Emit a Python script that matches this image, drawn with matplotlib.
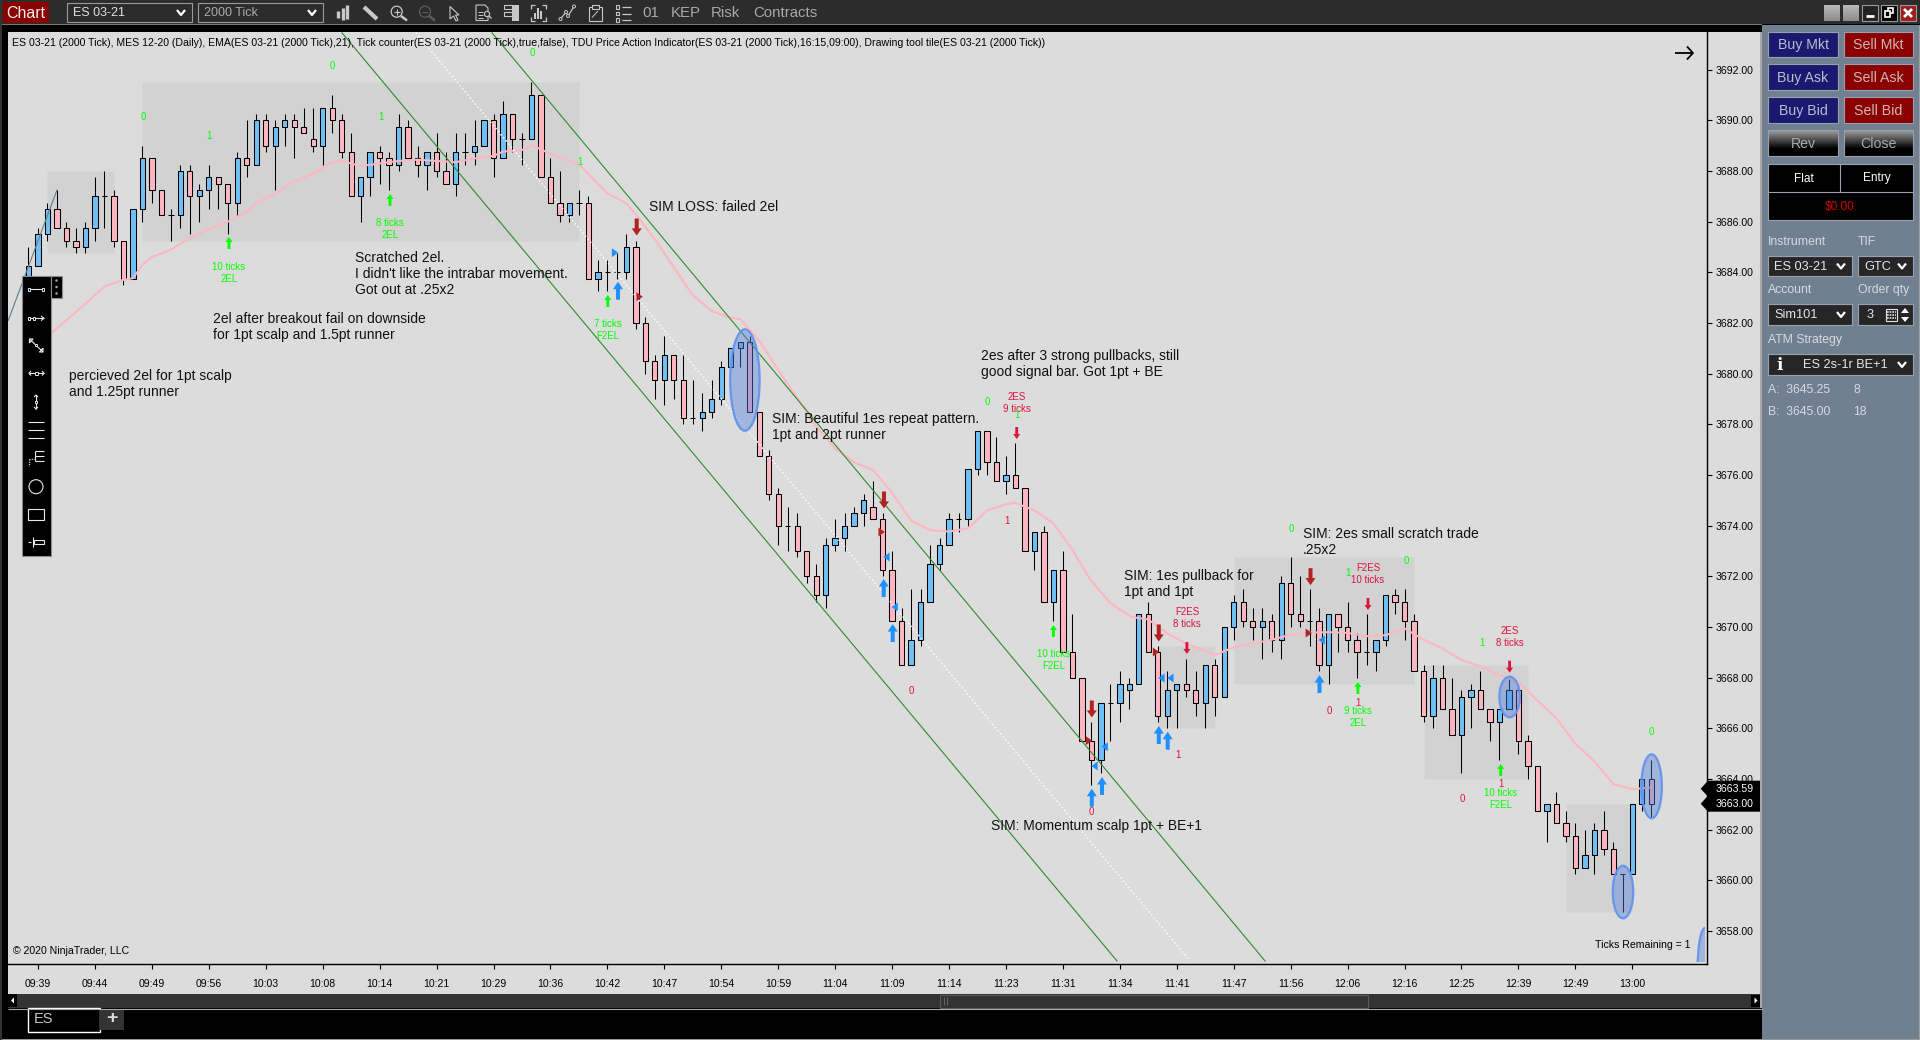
import numpy as np
import matplotlib
matplotlib.use("Agg")
import matplotlib.pyplot as plt
from matplotlib.patches import Rectangle, Ellipse, Polygon, Circle

plt.rcParams['font.family'] = ['Liberation Sans', 'DejaVu Sans']

opens = [3683.5,3684.25,3685.5,3686.5,3685.75,3685.25,3685.0,3685.75,3687.0,3687.0,
3685.25,3683.75,3686.5,3688.5,3687.25,3686.25,3686.25,3688.0,3687.0,3687.25,
3687.75,3687.5,3686.75,3688.5,3688.25,3690.0,3689.0,3689.75,3690.0,3689.75,
3689.25,3689.0,3690.5,3690.0,3688.75,3687.0,3687.75,3688.75,3688.5,3688.25,
3689.75,3688.5,3688.25,3688.75,3688.0,3687.5,3688.75,3688.75,3689.0,3690.0,
3688.5,3690.25,3689.25,3689.25,3691.0,3687.75,3686.75,3686.25,3686.75,3686.75,
3683.75,3684.0,3684.0,3684.0,3685.0,3682.0,3680.5,3679.75,3680.75,3679.75,
3678.25,3678.25,3678.5,3679.0,3680.25,3681.0,3681.25,3678.5,3676.75,3675.25,
3674.0,3674.0,3673.0,3672.0,3671.25,3673.25,3673.5,3674.0,3674.5,3674.75,
3674.25,3672.25,3670.25,3668.5,3669.5,3671.0,3672.5,3673.25,3674.25,3674.25,
3676.25,3677.75,3676.5,3675.75,3676.0,3675.5,3673.0,3673.75,3671.0,3672.25,
3669.0,3668.0,3665.5,3664.75,3667.0,3667.0,3667.5,3667.75,3670.5,3669.0,
3666.5,3667.5,3667.75,3667.5,3667.0,3668.5,3667.25,3670.0,3671.0,3670.25,
3670.0,3670.25,3669.5,3671.75,3670.5,3670.25,3670.25,3668.5,3670.5,3670.0,
3669.5,3669.0,3669.0,3669.5,3671.25,3671.0,3670.25,3668.25,3666.5,3668.0,
3666.75,3665.75,3667.25,3667.5,3666.75,3666.25,3666.75,3667.5,3665.5,3664.5,
3662.75,3663.0,3662.25,3661.75,3660.5,3661.0,3662.0,3661.25,3660.25,3660.25,
3663.0,3664.0]
closes = [3684.25,3685.5,3686.5,3685.75,3685.25,3685.0,3685.75,3687.0,3687.0,3685.25,
3683.75,3686.5,3688.5,3687.25,3686.25,3686.25,3688.0,3687.0,3687.25,3687.75,
3687.5,3686.75,3688.5,3688.25,3690.0,3689.0,3689.75,3690.0,3689.75,3689.5,
3689.0,3690.5,3690.0,3688.75,3687.0,3687.75,3688.75,3688.5,3688.25,3689.75,
3688.5,3688.25,3688.75,3688.0,3687.5,3688.75,3688.75,3689.0,3690.0,3688.5,
3690.25,3689.25,3689.25,3691.0,3687.75,3686.75,3686.25,3686.75,3686.75,3683.75,
3684.0,3684.0,3684.0,3685.0,3682.0,3680.5,3679.75,3680.75,3679.75,3678.25,
3678.25,3678.5,3679.0,3680.25,3681.0,3681.25,3678.5,3676.75,3675.25,3674.0,
3674.0,3673.0,3672.0,3671.25,3673.25,3673.5,3674.0,3674.5,3675.0,3674.25,
3672.25,3670.25,3668.5,3669.5,3671.0,3672.5,3673.25,3674.25,3674.25,3676.25,
3677.75,3676.5,3675.75,3676.0,3675.5,3673.0,3673.75,3671.0,3672.25,3669.0,
3668.0,3665.5,3664.75,3667.0,3667.0,3667.75,3667.75,3670.5,3669.0,3666.5,
3667.5,3667.75,3667.5,3667.0,3668.5,3667.25,3670.0,3671.0,3670.25,3670.0,
3670.25,3669.5,3671.75,3670.5,3670.25,3670.25,3668.5,3670.5,3670.0,3669.5,
3669.0,3669.0,3669.5,3671.25,3671.0,3670.25,3668.25,3666.5,3668.0,3666.75,
3665.75,3667.25,3667.5,3666.75,3666.25,3666.75,3667.5,3665.5,3664.5,3662.75,
3663.0,3662.25,3661.75,3660.5,3661.0,3662.0,3661.25,3660.25,3660.25,3663.0,
3664.0,3663.0]
highs = [3685.0,3685.75,3686.75,3687.25,3686.0,3685.75,3686.0,3687.75,3688.0,3687.25,
3685.25,3686.5,3689.0,3688.5,3687.25,3686.5,3688.25,3688.25,3687.5,3688.25,
3687.75,3687.5,3688.75,3690.0,3690.25,3690.25,3690.0,3690.25,3690.25,3690.5,
3690.5,3690.5,3691.0,3690.25,3689.5,3687.75,3688.75,3689.0,3688.75,3690.25,
3690.0,3689.0,3688.75,3689.5,3688.75,3689.5,3689.5,3690.0,3690.0,3690.25,
3690.75,3690.25,3689.5,3691.5,3691.0,3688.5,3688.0,3686.75,3687.25,3687.0,
3684.5,3684.5,3684.75,3685.5,3685.25,3682.25,3680.75,3681.5,3680.75,3680.75,
3679.75,3679.25,3679.75,3680.5,3681.0,3681.25,3681.5,3678.5,3677.0,3675.5,
3674.75,3674.5,3673.0,3672.5,3673.5,3674.25,3674.5,3674.75,3675.25,3675.75,
3674.5,3673.0,3670.75,3671.5,3671.5,3673.25,3673.5,3674.5,3674.5,3676.25,
3677.75,3677.75,3677.5,3676.75,3677.25,3675.5,3673.75,3674.0,3672.25,3673.0,
3670.5,3668.0,3666.25,3667.0,3667.75,3668.25,3668.0,3670.5,3671.0,3669.25,
3668.25,3667.75,3668.75,3668.25,3668.5,3668.75,3670.0,3671.25,3671.5,3670.75,
3670.75,3670.5,3672.0,3672.75,3672.0,3671.5,3670.75,3670.5,3670.5,3671.0,
3669.75,3670.5,3669.5,3671.25,3671.5,3671.5,3670.5,3668.5,3668.5,3668.5,
3668.0,3667.5,3667.75,3668.25,3666.75,3666.75,3668.0,3667.75,3665.75,3664.5,
3663.0,3663.5,3662.75,3662.25,3662.0,3662.25,3662.75,3661.5,3660.25,3663.0,
3664.0,3664.75]
lows = [3683.0,3684.25,3685.25,3685.75,3685.0,3684.75,3684.75,3685.25,3685.75,3685.0,
3683.5,3683.75,3686.0,3686.75,3686.25,3685.25,3685.75,3685.5,3686.0,3686.5,
3686.5,3685.5,3686.25,3687.75,3688.25,3688.75,3687.25,3689.0,3688.5,3689.5,
3688.75,3688.25,3689.5,3688.5,3687.0,3686.0,3687.0,3687.5,3687.25,3688.0,
3688.5,3687.75,3687.25,3687.75,3687.5,3687.0,3688.25,3688.25,3689.0,3687.75,
3688.5,3688.75,3688.25,3689.25,3687.75,3686.75,3686.0,3686.0,3686.25,3683.75,
3683.25,3683.25,3683.75,3683.75,3681.75,3680.0,3679.0,3678.75,3679.0,3678.0,
3678.0,3677.75,3678.25,3678.75,3680.25,3680.25,3678.5,3676.75,3675.0,3673.25,
3673.0,3672.75,3671.75,3671.0,3670.75,3673.0,3673.0,3674.0,3674.0,3674.25,
3672.0,3670.25,3668.5,3668.5,3669.25,3671.0,3672.25,3673.25,3673.75,3674.0,
3676.0,3676.0,3675.75,3675.25,3675.5,3673.0,3672.25,3671.0,3670.25,3669.0,
3668.0,3665.5,3663.75,3664.25,3665.5,3666.25,3666.75,3667.75,3669.0,3666.25,
3666.0,3666.0,3667.25,3666.5,3666.0,3666.5,3667.25,3669.5,3670.0,3669.5,
3668.75,3669.0,3668.75,3670.0,3670.0,3669.25,3668.25,3667.75,3669.0,3669.0,
3668.0,3668.5,3668.25,3669.25,3670.5,3669.5,3668.25,3666.25,3666.0,3666.75,
3665.75,3664.25,3666.0,3666.75,3665.5,3664.75,3666.75,3665.0,3664.0,3662.75,
3661.5,3662.25,3661.5,3660.25,3660.5,3660.25,3661.0,3660.25,3658.75,3660.25,
3662.75,3662.5]

ema_bars = [0,2.4,5.2,8,9.9,11,12,13,15,17,19,21,23,24,26,27.5,30,32,33,35,37,39,41,43,45,47,49,50,52,53,55,58,61,63,64.2,
66.3,68,70,71.9,73.6,75,77,79,80.9,83,85,87,89,91,93,95,97,99,101,103,104,106,108,110,111.9,114,116.2,118,120,122,125,
127,129,131,133,135,137,139,141,143,145,147,149,151,153,155,157,159,161,163,165,167,169,171]
ema_vals = [3681.0,3681.6,3682.5,3683.44,3683.7,3683.77,3684.3,3684.6,3684.9,3685.35,3685.7,3686.0,3686.4,3686.75,3687.1,3687.5,3687.9,3688.35,3688.4,3688.2,3688.3,3688.4,3688.45,3688.4,3688.35,3688.5,3688.6,3688.77,3688.83,3689.03,3688.68,3688.27,3687.12,3686.73,3686.2,
3685.15,3684.2,3683.1,3682.5,3682.25,3682.15,3681.3,3680.15,3679.1,3677.9,3677.05,3676.5,3676.2,3675.3,3674.2,3673.83,3673.77,3673.9,3674.6,3674.85,3674.9,3674.6,3674.1,3673.05,3671.86,3670.94,3670.4,3670.3,3669.75,3669.35,3668.9,
3669.2,3669.35,3669.5,3669.7,3669.78,3669.8,3669.77,3669.64,3669.68,3669.95,3669.5,3669.15,3668.7,3668.45,3668.1,3667.84,3667.1,3666.4,3665.4,3664.7,3663.8,3663.6,3663.67]

time_labels = ["09:39","09:44","09:49","09:56","10:03","10:08","10:14","10:21","10:29","10:36","10:42","10:47","10:54","10:59",
"11:04","11:09","11:14","11:23","11:31","11:34","11:41","11:47","11:56","12:06","12:16","12:25","12:39","12:49","13:00"]
price_ticks = list(range(3658, 3694, 2))

# (first bar, last bar, low price, high price)
zone_first = [2, 12, 119, 127, 147, 162]
zone_last = [9, 58, 125, 146, 158, 169]
zone_low = [3684.75, 3685.25, 3666.0, 3667.75, 3664.0, 3658.75]
zone_high = [3688.0, 3691.5, 3669.25, 3672.75, 3668.5, 3663.0]

channel_x0 = [33.03, 48.84]
channel_x1 = [114.7, 130.3]
mid_x0, mid_x1 = 40.83, 122.4
line_y0, line_y1 = 3693.46, 3656.82

W, H = 1920, 1040
BG = '#DCDCDC'
fig = plt.figure(figsize=(W/100, H/100), dpi=100, facecolor='black')

# ---------- window chrome (pixel axes underneath) ----------
ui = fig.add_axes([0, 0, 1, 1], zorder=0)
ui.set_xlim(0, W); ui.set_ylim(H, 0); ui.axis('off')

def rect(a, x0, y0, x1, y1, fc, ec='none', lw=0.8, z=1):
    a.add_patch(Rectangle((x0, y0), x1-x0, y1-y0, fc=fc, ec=ec, lw=lw, zorder=z))

def px_line(a, xs, ys, c='white', lw=0.8, z=5, **kw):
    a.plot(xs, ys, color=c, lw=lw, zorder=z, solid_capstyle='butt', **kw)

rect(ui, 0, 0, W, H, 'black')
rect(ui, 0, 0, W, 24, '#2c2c2c')
rect(ui, 0, 24, 1762, 25, '#777777', z=2)
rect(ui, 0, 1039, W, H, '#9a9a9a', z=2)
rect(ui, 0, 0, 1.5, H, '#333333', z=2)
rect(ui, 8, 32, 1760, 994, BG)
rect(ui, 1762, 25, W, H, '#708090')
rect(ui, 1760, 32, 1762, 1008, '#a8a8a8', z=2)
rect(ui, 1919, 25, W, H, '#a0a0a0', z=2)
rect(ui, 3, 2, 49, 23, '#8b0000')
ui.text(26, 13, 'Chart', color='#f0f0f0', fontsize=11.5, ha='center', va='center')

def combo(x0, y0, x1, y1, txt, tc='#d8d8d8', fs=9, tx=None, ec='#9a9a9a', fc='#262626'):
    rect(ui, x0, y0, x1, y1, fc, ec=ec, lw=0.8, z=3)
    ui.text((x0+6) if tx is None else tx, (y0+y1)/2+0.5, txt, color=tc, fontsize=fs, ha='left', va='center', zorder=4)
    cx, cy = x1-11, (y0+y1)/2
    px_line(ui, [cx-4, cx, cx+4], [cy-2.5, cy+2.5, cy-2.5], c='white', lw=1.6)

combo(67, 3, 192, 22, 'ES 03-21', fs=9, tc='#e0e0e0', fc='#2c2c2c')
combo(198, 3, 323, 22, '2000 Tick', fs=9, tc='#aaaaaa', fc='#2c2c2c')

# title-bar icons
ic = '#c8c8c8'
for dx, y0, y1 in [(338, 11, 18), (342.5, 8, 20), (347, 5, 19)]:
    px_line(ui, [dx, dx], [y0, y1], c=ic, lw=2.4)
px_line(ui, [364, 377], [7, 19], c=ic, lw=3)
ui.add_patch(Circle((396.7, 11.7), 5.5, fc='none', ec=ic, lw=0.9, zorder=5))
px_line(ui, [393.5, 400], [11.7, 11.7], c=ic, lw=0.8); px_line(ui, [396.7, 396.7], [8.5, 15], c=ic, lw=0.8)
px_line(ui, [401, 407], [16, 20.5], c=ic, lw=1.8)
ui.add_patch(Circle((425, 11.7), 5.5, fc='none', ec='#5c5c5c', lw=0.9, zorder=5))
px_line(ui, [422, 428], [11.7, 11.7], c='#5c5c5c', lw=0.8)
px_line(ui, [429, 435], [16, 20.5], c='#5c5c5c', lw=1.8)
ui.add_patch(Polygon([(450, 6.5), (450, 19), (453.5, 16), (456, 21), (458, 20), (455.5, 15), (459, 15)], fc='none', ec=ic, lw=0.8, zorder=5))
ui.add_patch(Polygon([(476, 5), (485, 5), (488, 8), (488, 20.5), (476, 20.5)], fc='none', ec=ic, lw=0.8, zorder=5))
for y in [12, 15, 18]:
    px_line(ui, [478, 483], [y, y], c=ic, lw=0.7)
ui.add_patch(Circle((487, 14), 2.6, fc='#2c2c2c', ec=ic, lw=0.8, zorder=6))
px_line(ui, [489, 491.5], [16, 18.5], c=ic, lw=1, z=6)
for y0 in [5, 12]:
    rect(ui, 503.5, y0, 512, y0+4, 'none', ec=ic, z=5)
rect(ui, 512, 5, 519, 21, ic, z=5)
for xs, ys in [([531, 531, 535], [9, 5, 5]), ([541.5, 545.5, 545.5], [5, 5, 9]), ([531, 531, 535], [16.5, 20.5, 20.5]), ([541.5, 545.5, 545.5], [20.5, 20.5, 16.5])]:
    px_line(ui, xs, ys, c=ic, lw=0.9)
for dx, y0 in [(535, 13), (538, 8), (541, 11)]:
    px_line(ui, [dx, dx], [y0, 19], c=ic, lw=1.5)
px_line(ui, [560.5, 566, 568, 574], [19, 12, 16, 6.5], c=ic, lw=0.9)
for x, y in [(560.5, 19), (566, 12), (568, 16), (574, 6.5)]:
    ui.add_patch(Circle((x, y), 1.5, fc='#2c2c2c', ec=ic, lw=0.7, zorder=6))
rect(ui, 588.5, 7, 602, 20.5, 'none', ec=ic, z=5); rect(ui, 592, 5, 598.5, 8.5, '#2c2c2c', ec=ic, z=6)
px_line(ui, [592, 598], [17.5, 11], c=ic, lw=0.7)
for y in [7, 13.5, 20]:
    rect(ui, 615.5, y-1.6, 618.5, y+1.6, 'none', ec=ic, z=5)
    px_line(ui, [622, 631], [y, y], c=ic, lw=0.9)
for txt, x in zip(['01', 'KEP', 'Risk', 'Contracts'], [651, 686, 725, 785]):
    ui.text(x, 13, txt, color='#a8a8a8', fontsize=10.8, ha='center', va='center')

# window buttons
for x0, x1 in [(1824, 1840), (1843, 1859)]:
    ui.imshow(np.linspace(0.72, 0.55, 16)[:, None], cmap='gray', vmin=0, vmax=1, extent=(x0, x1, 21, 5), aspect='auto', zorder=3)
rect(ui, 1862, 5, 1878, 21, '#222222', ec='#999999', z=3)
px_line(ui, [1866, 1874], [16, 16], lw=2)
rect(ui, 1881, 5, 1897, 21, 'black', ec='#999999', z=3)
rect(ui, 1888, 8, 1893, 13, 'none', ec='white', lw=1.2, z=5); rect(ui, 1885, 11, 1890, 17, 'black', ec='white', lw=1.2, z=6)
rect(ui, 1900, 5, 1916, 21, '#a01c1c', ec='#999999', z=3)
px_line(ui, [1904, 1912], [9, 17], lw=2); px_line(ui, [1904, 1912], [17, 9], lw=2)

# order panel
btn_rows = [(32, 57), (64, 90), (97, 123)]
for (y0, y1), a, b in zip(btn_rows, ['Buy Mkt', 'Buy Ask', 'Buy Bid'], ['Sell Mkt', 'Sell Ask', 'Sell Bid']):
    rect(ui, 1768, y0, 1838, y1, '#191970', ec='#9aa0ac', z=3)
    rect(ui, 1844, y0, 1913, y1, '#8b0000', ec='#9aa0ac', z=3)
    ui.text(1803, (y0+y1)/2+0.8, a, color='#b9bdd0', fontsize=10.2, ha='center', va='center', zorder=4)
    ui.text(1878.5, (y0+y1)/2+0.8, b, color='#d2b4b4', fontsize=10.2, ha='center', va='center', zorder=4)
for x0, x1, t in [(1768, 1838, 'Rev'), (1844, 1913, 'Close')]:
    ui.imshow(np.clip(np.linspace(0.62, -0.25, 26), 0, 1)[:, None], cmap='gray', vmin=0, vmax=1, extent=(x0, x1, 156, 130), aspect='auto', zorder=3)
    rect(ui, x0, 130, x1, 156, 'none', ec='#9aa0ac', z=4)
    ui.text((x0+x1)/2, 144, t, color='#a9a9a9', fontsize=10.2, ha='center', va='center', zorder=5)
rect(ui, 1768, 164, 1913, 220, 'black', ec='#9aa0ac', z=3)
px_line(ui, [1768, 1913], [192, 192], c='#9aa0ac')
px_line(ui, [1840, 1840], [164, 192], c='#9aa0ac')
ui.text(1804, 178.5, 'Flat', color='white', fontsize=8.6, ha='center', va='center', zorder=5)
ui.text(1877, 178.5, 'Entry', color='white', fontsize=8.6, ha='center', va='center', zorder=5)
ui.text(1840, 207, '$0.00', color='#d00000', fontsize=8.6, ha='center', va='center', zorder=5)
lab = '#d5dae2'
for x, y, t in [(1768, 242, 'Instrument'), (1858, 242, 'TIF'), (1768, 290, 'Account'), (1858, 290, 'Order qty'), (1768, 340, 'ATM Strategy'),
                (1768, 390, 'A:  3645.25'), (1853, 390, '8'), (1768, 412, 'B:  3645.00'), (1853, 412, '18')]:
    ui.text(x, y, t, color=lab, fontsize=8.8, ha='left', va='center', zorder=5)
combo(1768, 256, 1852, 276, 'ES 03-21', tc='#e6e6e6', fs=9.2, ec='#9aa0ac')
combo(1858, 256, 1913, 276, 'GTC', tc='#e6e6e6', fs=9.2, ec='#9aa0ac')
combo(1768, 304, 1852, 325, 'Sim101', tc='#e6e6e6', fs=9.2, ec='#9aa0ac')
rect(ui, 1858, 304, 1913, 325, '#262626', ec='#9aa0ac', z=3)
ui.text(1870, 315, '3', color='#e6e6e6', fontsize=9.2, ha='center', va='center', zorder=5)
rect(ui, 1886, 309, 1897, 321, 'none', ec='#e0e0e0', z=5)
for y in [312, 315, 318]:
    px_line(ui, [1887, 1896], [y, y], c='#e0e0e0', lw=1.2, ls=(0, (1, 0.6)))
ui.add_patch(Polygon([(1901, 313), (1905, 308), (1909, 313)], fc='white', zorder=5))
ui.add_patch(Polygon([(1901, 317), (1905, 322), (1909, 317)], fc='white', zorder=5))
combo(1768, 354, 1913, 375, 'ES 2s-1r BE+1', tc='#e6e6e6', fs=9.2, tx=1803, ec='#9aa0ac')
ui.text(1780, 365, 'i', color='white', fontsize=12, fontweight='bold', ha='center', va='center', zorder=5, family='DejaVu Serif')

# bottom strip: scrollbar and tabs
rect(ui, 8, 994, 1760, 1008, '#333333')
rect(ui, 940, 994.5, 1367.5, 1007.5, '#333333', ec='#5a5a5a', lw=0.8, z=2)
for x in [944, 946.5]:
    px_line(ui, [x, x], [997, 1005], c='#666666', lw=0.7)
rect(ui, 8, 994, 17, 1007, 'black', z=3)
ui.add_patch(Polygon([(11, 1000.5), (14, 997.5), (14, 1003.5)], fc='white', zorder=4))
rect(ui, 1751, 995, 1760, 1007, 'black', z=3)
ui.add_patch(Polygon([(1757.5, 1000.5), (1754.5, 997.5), (1754.5, 1003.5)], fc='white', zorder=4))
px_line(ui, [8, 1762], [1008.5, 1008.5], c='#aaaaaa')
rect(ui, 28, 1008, 100, 1032, 'black', ec='white', lw=1, z=3)
ui.text(34, 1019, 'ES', color='#c8c8c8', fontsize=10.5, ha='left', va='center', zorder=4)
rect(ui, 100, 1009, 124, 1030, '#333333', z=3)
ui.text(112, 1019, '+', color='#e0e0e0', fontsize=14, fontweight='bold', ha='center', va='center', zorder=4)
ui.set_xlim(0, W); ui.set_ylim(H, 0)

# ---------- the chart itself ----------
L, R, T, B = 8, 1707, 32, 964
ax = fig.add_axes([L/W, (H-B)/H, (R-L)/W, (B-T)/H], zorder=1)
ax.set_facecolor(BG)
ax.set_xlim(-2.16, 176.87)
ax.set_ylim(3656.70, 3693.49)
for s in ['top', 'left']:
    ax.spines[s].set_visible(False)
for s in ['right', 'bottom']:
    ax.spines[s].set_color('black'); ax.spines[s].set_linewidth(1.0)
ax.yaxis.tick_right()
ax.set_yticks(price_ticks)
ax.set_yticklabels([f'{p:.2f}' for p in price_ticks])
ax.set_xticks(range(1, 1+6*len(time_labels), 6))
ax.set_xticklabels(time_labels)
ax.tick_params(axis='both', labelsize=7.6, length=3.5, width=0.8, color='black', labelcolor='black')
ax.tick_params(axis='x', pad=7)
ax.tick_params(axis='y', pad=2.6)

for a, b, lo, hi in zip(zone_first, zone_last, zone_low, zone_high):
    ax.add_patch(Rectangle((a, lo), b-a, hi-lo, fc='#d2d2d2', ec='#cfdccf', lw=0.8, zorder=1))

idx = np.arange(len(opens))
o, h, l, c = map(np.array, (opens, highs, lows, closes))
ax.vlines(idx, l, h, color='black', lw=0.75, zorder=3)
colors = np.where(c > o, '#6FC0F7', '#FFB6C1').tolist()
body = np.abs(c-o)
ax.bar(idx, body, bottom=np.minimum(o, c), width=0.56, color=colors, edgecolor='black', linewidth=0.75, zorder=4)

ax.plot(ema_bars, ema_vals, color='#FFB6C1', lw=1.5, zorder=5)
for x0, x1 in zip(channel_x0, channel_x1):
    ax.plot([x0, x1], [line_y0, line_y1], color='#2f8b2f', lw=0.8, zorder=6)
ax.plot([mid_x0, mid_x1], [line_y0, line_y1], color='#fff4f8', lw=1.2, ls=(0, (1, 1.4)), zorder=6)
ax.plot([-2.14, 3.0], [3682.1, 3687.25], color='#5f7f85', lw=0.8, zorder=6)

# ---------- annotations (pixel overlay) ----------
ov = fig.add_axes([0, 0, 1, 1], zorder=2)
ov.set_xlim(0, W); ov.set_ylim(H, 0); ov.axis('off'); ov.patch.set_alpha(0)

ov.text(12.5, 43, 'ES 03-21 (2000 Tick), MES 12-20 (Daily), EMA(ES 03-21 (2000 Tick),21), Tick counter(ES 03-21 (2000 Tick),true,false), '
        'TDU Price Action Indicator(ES 03-21 (2000 Tick),16:15,09:00), Drawing tool tile(ES 03-21 (2000 Tick))',
        fontsize=7.6, va='center', ha='left', color='black')
ov.text(13, 951, '© 2020 NinjaTrader, LLC', fontsize=7.6, va='center', color='black')
ov.text(1595, 945, 'Ticks Remaining = 1', fontsize=7.6, va='center', color='black')

notes = [
    (355, 257.7, ["Scratched 2el.", "I didn't like the intrabar movement.", "Got out at .25x2"]),
    (212.6, 318.7, ["2el after breakout fail on downside", "for 1pt scalp and 1.5pt runner"]),
    (69.4, 375.7, ["percieved 2el for 1pt scalp", "and 1.25pt runner"]),
    (648.6, 206.7, ["SIM LOSS: failed 2el"]),
    (772, 418.7, ["SIM: Beautiful 1es repeat pattern.", "1pt and 2pt runner"]),
    (981, 355.7, ["2es after 3 strong pullbacks, still", "good signal bar. Got 1pt + BE"]),
    (1123.5, 575.7, ["SIM: 1es pullback for", "1pt and 1pt"]),
    (1303, 533.7, ["SIM: 2es small scratch trade", ".25x2"]),
    (990.6, 826, ["SIM: Momentum scalp 1pt + BE+1"]),
]
for x, y, lines in notes:
    for i, t in enumerate(lines):
        ov.text(x, y+16*i, t, fontsize=10.0, va='center', ha='left', color='#111111')

G, C = '#00FF00', '#DC143C'
signals = [
    (229, 266.7, ["10 ticks", "2EL"], G), (390, 222.7, ["8 ticks", "2EL"], G), (607.8, 323.7, ["7 ticks", "F2EL"], G),
    (1053.4, 653.7, ["10 ticks", "F2EL"], G), (1357.9, 710.7, ["9 ticks", "2EL"], G), (1501, 793.5, ["10 ticks", "F2EL"], G),
    (1016.7, 396.7, ["2ES", "9 ticks"], C), (1186.9, 611.7, ["F2ES", "8 ticks"], C), (1368, 567.7, ["F2ES", "10 ticks"], C),
    (1509.6, 630.7, ["2ES", "8 ticks"], C),
    (332.7, 65.7, ["0"], G), (532, 53, ["0"], G), (143, 116.7, ["0"], G), (209, 135.7, ["1"], G), (381, 116.7, ["1"], G),
    (579.6, 161.7, ["1"], G), (987.8, 401.7, ["0"], G), (1017, 415, ["1"], G), (1291.8, 529, ["0"], G), (1406, 560.7, ["0"], G),
    (1348, 573.3, ["1"], G), (1482, 642.7, ["1"], G), (1651.6, 731.7, ["0"], G),
    (1007, 520.7, ["1"], C), (1091.8, 811.7, ["0"], C), (1177.5, 754.7, ["1"], C), (1329.7, 710.7, ["0"], C), (1357.9, 702.5, ["1"], C),
    (1462.8, 799.3, ["0"], C), (1500.7, 784, ["1"], C), (911, 690.6, ["0"], C),
]
for x, y, lines, col in signals:
    for i, t in enumerate(lines):
        ov.text(x, y+12*i, t, fontsize=7.0, va='center', ha='center', color=col)

def arrow(cx, cy, w, hgt, up, col):
    s = -1 if up else 1
    hw, sw = w/2, w/5
    hh = hgt*0.42
    tip = cy + s*hgt/2
    back = cy - s*hgt/2
    neck = tip - s*hh
    ov.add_patch(Polygon([(cx, tip), (cx+hw, neck), (cx+sw, neck), (cx+sw, back), (cx-sw, back), (cx-sw, neck), (cx-hw, neck)],
                         fc=col, ec='none', zorder=8))

def tri(cx, cy, right, col, sz=4.5):
    s = 1 if right else -1
    ov.add_patch(Polygon([(cx+s*sz*0.7, cy), (cx-s*sz*0.7, cy-sz), (cx-s*sz*0.7, cy+sz)], fc=col, ec='none', zorder=8))

DR, BL = '#B22222', '#1E90FF'
for x, y in [(229, 243), (390, 200), (607.8, 301), (1053.4, 631), (1357.9, 688), (1500.7, 770)]:
    arrow(x, y, 7, 12, True, G)
for x, y in [(636.7, 227), (884, 500), (1158.8, 633), (1091.8, 709), (1310.5, 576.7)]:
    arrow(x, y, 10, 17, False, DR)
for x, y in [(618, 290.7), (883.7, 588), (892.7, 633), (1091.8, 797.7), (1102, 786), (1158.8, 735), (1167.7, 740.7), (1319.5, 684)]:
    arrow(x, y, 10, 18, True, BL)
for x, y in [(1016.7, 433), (1186.9, 648), (1368, 604), (1509.6, 666.7)]:
    arrow(x, y, 7, 12, False, C)
for x, y in [(615, 252.7), ]:
    tri(x, y, True, BL)
for x, y in [(886.5, 557), (1104.7, 746.7), (1094.5, 766), (1161.4, 678), (1170.4, 678), (1321.7, 640), (894.7, 607)]:
    tri(x, y, False, BL)
for x, y in [(639.6, 296.7), (881.6, 532), (1089, 740.7), (1156, 652), (1308.8, 633)]:
    tri(x, y, True, DR)

clip = Rectangle((L, T), 1705-L, 962-T, transform=ov.transData)
for cx, y0, y1, wd in [(744.9, 329.3, 430.7, 29.4), (1509.6, 676.7, 717.3, 20.5), (1623, 865.7, 918.3, 20.5), (1651.6, 754.3, 818.3, 20.5), (1705, 928, 1012, 15)]:
    e = Ellipse((cx, (y0+y1)/2), wd, y1-y0, fc=(0.31, 0.49, 0.87, 0.42), ec=(0.39, 0.58, 0.93, 0.95), lw=1.6, zorder=7)
    ov.add_patch(e)
    e.set_clip_path(clip)

# top-right arrow
px_line(ov, [1675, 1693], [53, 53], c='black', lw=1.3, z=9)
px_line(ov, [1687, 1693, 1687], [46.5, 53, 59.5], c='black', lw=1.3, z=9)

# price flags
for y, t in [(788.7, '3663.59'), (803.7, '3663.00')]:
    ov.add_patch(Polygon([(1700.7, y), (1708, y-8), (1760, y-8), (1760, y+8), (1708, y+8)], fc='black', ec='none', zorder=10))
    ov.text(1735, y, t, color='white', fontsize=7.6, ha='center', va='center', zorder=11)

# drawing toolbar
rect(ov, 21.7, 275.7, 50.7, 556, 'black', ec='#8c8c8c', lw=0.8, z=20)
rect(ov, 50.7, 275.7, 62.3, 298.3, 'black', ec='#8c8c8c', lw=0.8, z=20)
for y in [280.5, 287, 293.5]:
    ov.add_patch(Circle((56.5, y), 1.2, fc='#b0b0b0', ec='none', zorder=21))
Z = 22
w = '#e8e8e8'
def node(x, y):
    rect(ov, x-1.3, y-1.3, x+1.3, y+1.3, 'black', ec='#d8e8f0', lw=0.7, z=Z+1)
px_line(ov, [29, 44], [289.3, 289.3], c=w, z=Z); node(29, 289.3); node(43, 289.3)
px_line(ov, [29, 44], [318.3, 318.3], c=w, z=Z); node(29, 318.3); node(34, 318.3)
px_line(ov, [41, 44, 41], [316, 318.3, 320.6], c=w, z=Z)
px_line(ov, [29.5, 43], [339, 352], c=w, z=Z); node(36, 345)
px_line(ov, [29.5, 33, 29.5, 29.5], [343, 339, 339, 343], c=w, z=Z); px_line(ov, [43, 39.5, 43, 43], [348, 352, 352, 348], c=w, z=Z)
px_line(ov, [29, 44], [373.3, 373.3], c=w, z=Z); node(36.5, 373.3)
px_line(ov, [31, 29, 31], [371, 373.3, 375.6], c=w, z=Z); px_line(ov, [42, 44, 42], [371, 373.3, 375.6], c=w, z=Z)
px_line(ov, [36, 36], [395, 409], c=w, z=Z); node(36, 402)
px_line(ov, [34, 36, 38], [397, 395, 397], c=w, z=Z); px_line(ov, [34, 36, 38], [407, 409, 407], c=w, z=Z)
for y in [422, 430, 438]:
    px_line(ov, [28, 44], [y, y], c=w, z=Z)
for y in [451, 456, 461]:
    px_line(ov, [35, 44], [y, y], c=w, z=Z)
px_line(ov, [35, 35], [451, 461], c=w, z=Z)
px_line(ov, [28.5, 34], [459, 459], c=w, z=Z, ls=(0, (1, 1))); px_line(ov, [28.5, 28.5], [459, 466], c=w, z=Z, ls=(0, (1, 1)))
ov.add_patch(Circle((36, 486.7), 7, fc='none', ec=w, lw=0.8, zorder=Z))
rect(ov, 28, 508.5, 44, 519.5, 'none', ec=w, z=Z)
rect(ov, 34, 540, 44, 543.5, 'none', ec=w, z=Z); px_line(ov, [33, 33], [537, 546.5], c=w, z=Z); px_line(ov, [28, 31], [541.7, 541.7], c=w, z=Z)

ov.set_xlim(0, W); ov.set_ylim(H, 0)
fig.savefig('out.png', dpi=100, facecolor='black')
